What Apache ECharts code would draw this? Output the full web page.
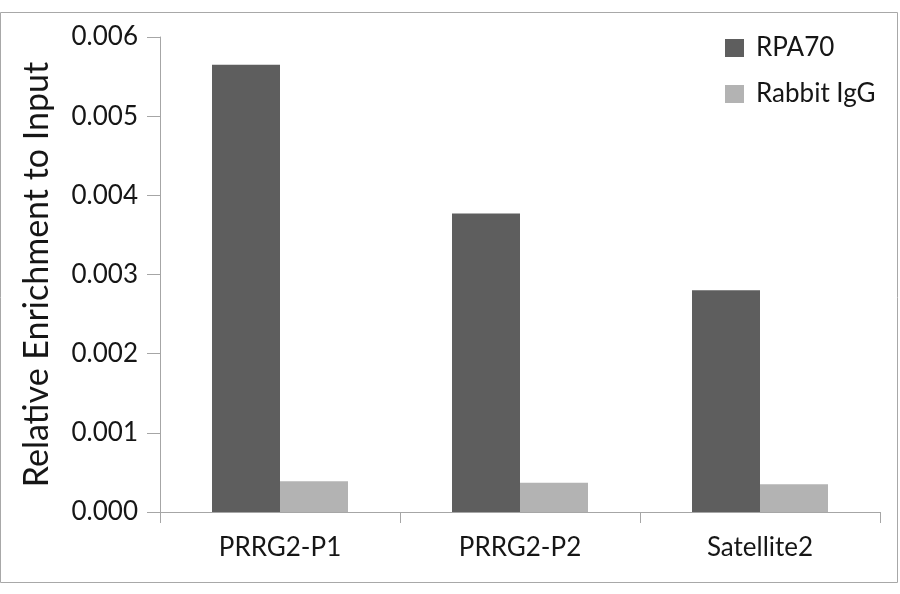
<!DOCTYPE html>
<html><head><meta charset="utf-8">
<script src="https://cdn.jsdelivr.net/npm/echarts@6/dist/echarts.min.js"></script>
<style>html,body{margin:0;padding:0;background:#fff}#c{width:900px;height:594px}</style>
</head><body><div id="c"></div>
<script>
const categories = ['PRRG2-P1', 'PRRG2-P2', 'Satellite2'];
const seriesNames = ['RPA70', 'Rabbit IgG'];
const rpa70 = [0.00565, 0.00377, 0.00280];
const rabbitIgG = [0.00039, 0.00037, 0.00035];
const yTicks = { min: 0, max: 0.006, interval: 0.001 };
const yAxisTitle = 'Relative Enrichment to Input';

const FONT = 'Lato';
const TXT = '#161616';
const chart = echarts.init(document.getElementById('c'), null, { renderer: 'canvas' });
chart.setOption({
  animation: false,
  backgroundColor: '#fff',
  textStyle: { fontFamily: FONT },
  graphic: [{
    type: 'rect', silent: true, z: -1,
    shape: { x: 0.5, y: 12.5, width: 897, height: 570 },
    style: { fill: 'none', stroke: '#a8a8a8', lineWidth: 1 }
  }],
  grid: { left: 160, right: 20, top: 37, bottom: 82, containLabel: false },
  legend: {
    orient: 'vertical', left: 720, top: 30,
    itemWidth: 19, itemHeight: 18, itemGap: 20,
    icon: 'rect',
    textStyle: { fontFamily: FONT, fontSize: 26, color: TXT, padding: [0, 0, 0, 7] },
    data: seriesNames
  },
  xAxis: {
    type: 'category', data: categories,
    axisLine: { lineStyle: { color: '#a6a6a6', width: 1 } },
    axisTick: { show: true, alignWithLabel: false, length: 11, lineStyle: { color: '#a6a6a6' } },
    axisLabel: { fontFamily: FONT, fontSize: 26, color: TXT, margin: 23 }
  },
  yAxis: {
    type: 'value', min: yTicks.min, max: yTicks.max, interval: yTicks.interval,
    name: yAxisTitle, nameLocation: 'middle', nameGap: 106,
    nameTextStyle: { fontFamily: FONT, fontSize: 34, color: TXT },
    splitLine: { show: false },
    axisLine: { show: true, lineStyle: { color: '#a6a6a6', width: 1 } },
    axisTick: { show: true, length: 13, lineStyle: { color: '#a6a6a6' } },
    axisLabel: { fontFamily: FONT, fontSize: 26, color: TXT, margin: 22,
      formatter: v => v.toFixed(3) }
  },
  series: [
    { name: seriesNames[0], type: 'bar', data: rpa70, barWidth: 68, barGap: '0%',
      itemStyle: { color: '#5e5e5e' } },
    { name: seriesNames[1], type: 'bar', data: rabbitIgG, barWidth: 68, barGap: '0%',
      itemStyle: { color: '#b3b3b3' } }
  ]
});
</script></body></html>
